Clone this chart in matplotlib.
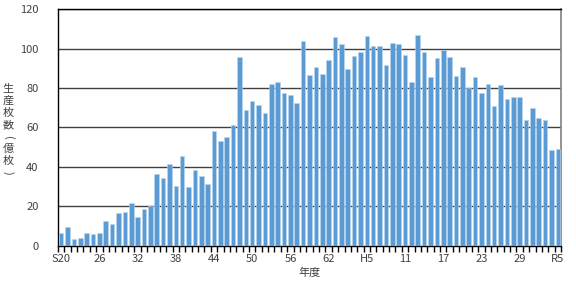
import numpy as np
import matplotlib.pyplot as plt

plt.rcParams['font.family'] = ['Noto Sans CJK JP', 'DejaVu Sans']

# production (100 million sheets), S20 .. R5
years = (['S%d' % y for y in range(20, 64)] + ['H%d' % y for y in range(1, 31)]
         + ['R%d' % y for y in range(1, 6)])
values = [6.3, 9.4, 3.2, 3.6, 6.6, 5.8, 6.2, 12.2, 11.0, 16.4,
          17.1, 21.7, 14.6, 18.6, 20.0, 36.4, 34.2, 41.3, 30.3, 45.4,
          29.6, 38.2, 35.4, 31.0, 58.1, 52.9, 54.9, 61.0, 95.6, 68.6,
          73.4, 71.4, 67.5, 82.2, 83.1, 77.6, 76.6, 72.2, 104.1, 86.6,
          90.7, 87.1, 94.1, 105.9, 102.5, 89.5, 96.1, 98.1, 106.4, 101.2,
          101.2, 91.7, 102.9, 102.4, 96.8, 82.9, 107.0, 98.3, 85.4, 95.3,
          99.3, 95.6, 86.1, 90.8, 80.2, 85.4, 77.6, 81.9, 70.7, 81.4,
          74.4, 75.3, 75.3, 63.7, 69.7, 64.6, 63.6, 48.4, 49.2]
tick_labels = ['S20', '26', '32', '38', '44', '50', '56', '62',
               'H5', '11', '17', '23', '29', 'R5']
ylabel_chars = ['生', '産', '枚', '数', '(', '億', '枚', ')']

fig = plt.figure(figsize=(5.76, 2.86), dpi=100)
ax = fig.add_axes([0.1007, 0.1416, 0.8733, 0.8259])

x = np.arange(len(years))
ax.bar(x, values, width=0.72, color='#5B9BD5', edgecolor='#BDD7EE', linewidth=0.4, zorder=3)

ax.set_xlim(-0.5, len(years) - 0.5)
ax.set_ylim(0, 120)
ax.set_yticks(range(0, 121, 20))
ax.yaxis.grid(True, color='#404040', linewidth=1.0, zorder=0)

# label every 6th year
ax.set_xticks(x[::6])
ax.set_xticklabels(tick_labels)
ax.set_xticks(np.arange(-0.5, len(years), 1), minor=True)
ax.tick_params(axis='x', which='major', length=0, pad=6, labelsize=8, labelcolor='#404040')
ax.tick_params(axis='x', which='minor', length=4, width=1, color='black', direction='out')
ax.tick_params(axis='y', length=0, pad=14, labelsize=8, labelcolor='#404040')

for s in ['left', 'bottom', 'top']:
    ax.spines[s].set_color('black')
    ax.spines[s].set_linewidth(1.0)
ax.spines['right'].set_color('#808080')
ax.spines['right'].set_linewidth(1.2)

ax.set_xlabel('年度', fontsize=8, color='#404040', labelpad=3)

# vertical y label, one character per line (pixel rows from the top)
rows = [89, 101, 113, 125, 138, 149, 161, 173]
for ch, r in zip(ylabel_chars, rows):
    rot = -90 if ch in '()' else 0
    fig.text(8 / 576, 1 - r / 286, ch, fontsize=8, color='#404040',
             ha='center', va='center', rotation=rot, rotation_mode='anchor')

fig.savefig('out.png', dpi=100)
